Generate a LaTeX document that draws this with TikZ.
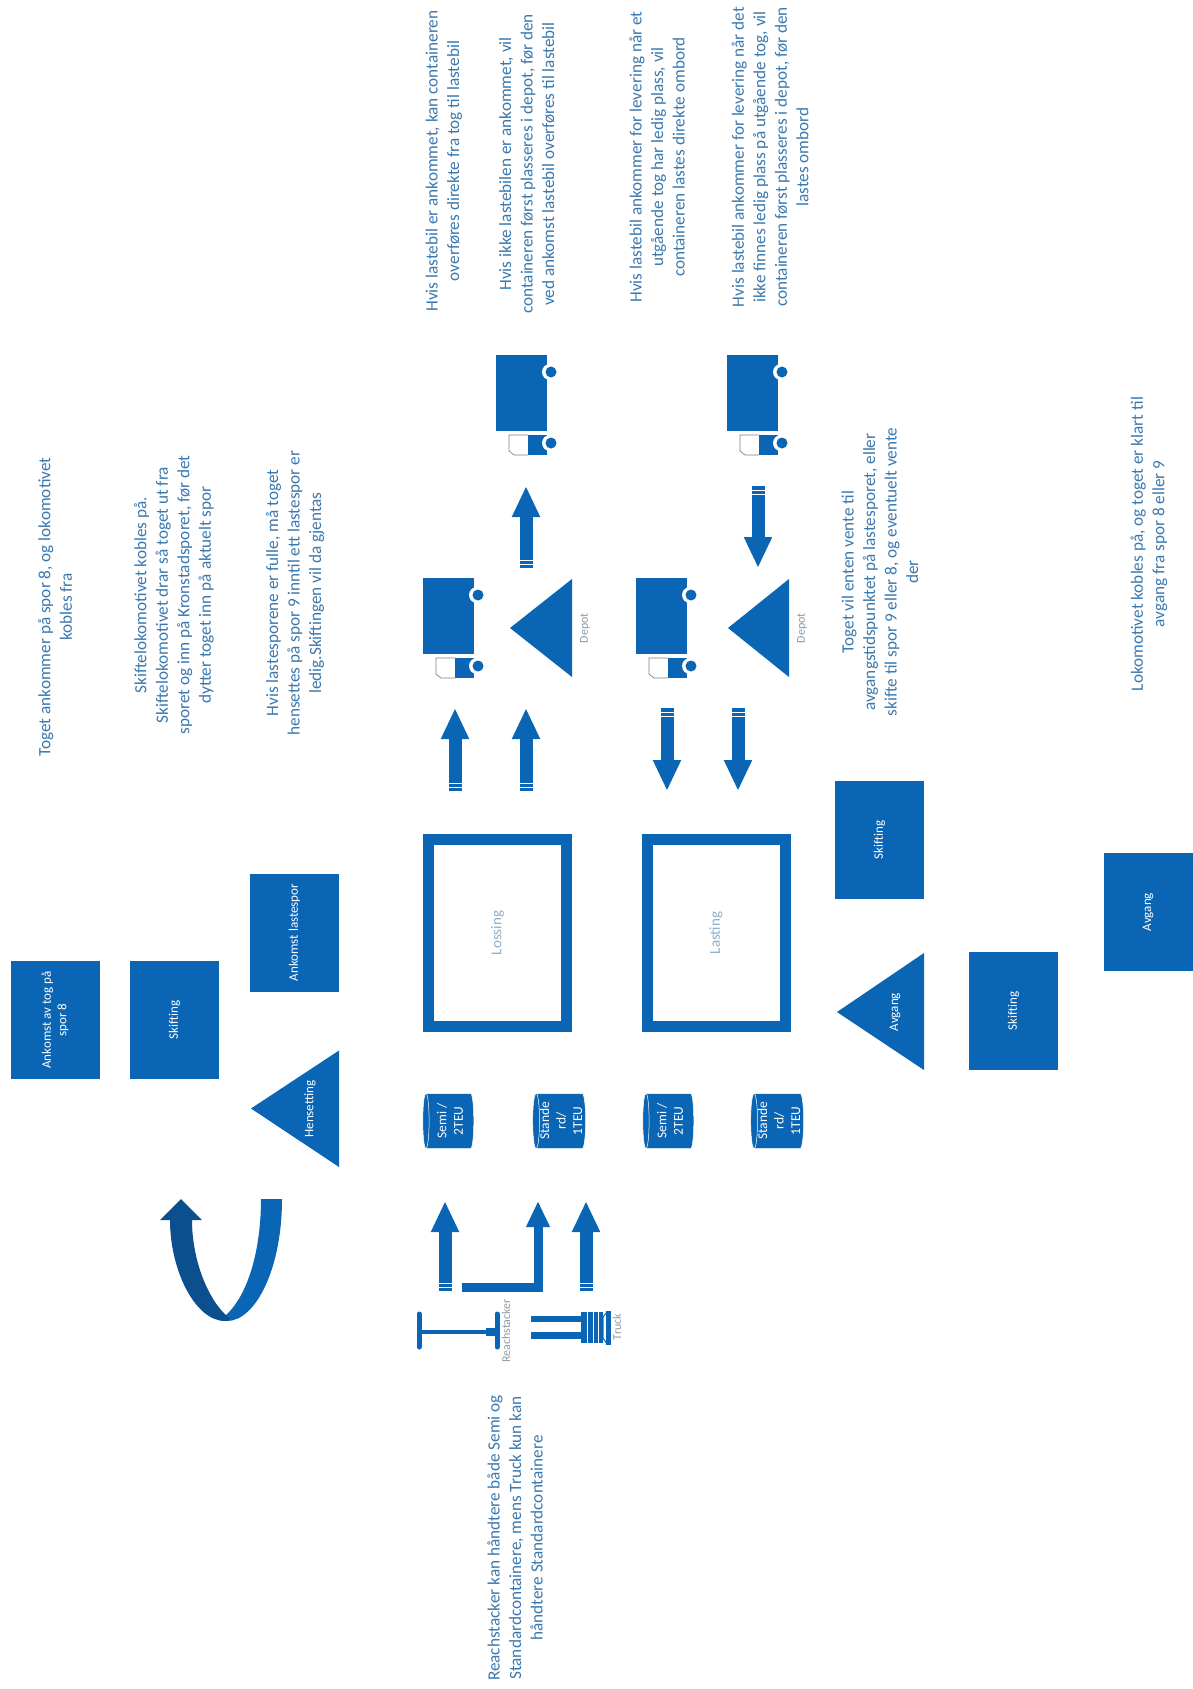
\documentclass[tikz,border=0pt]{standalone}
\usepackage{fontspec}
\setmainfont{Carlito}
\usetikzlibrary{arrows.meta,shapes.geometric,decorations.markings}
\definecolor{flowblue}{HTML}{0A65B4}
\definecolor{flowdark}{HTML}{0B4F8E}
\definecolor{notetext}{HTML}{3A78AE}
\definecolor{faintlabel}{HTML}{8FAFCB}
\definecolor{iconlabel}{HTML}{8C9AA8}
\tikzset{
  flowbox/.style={fill=flowblue, text=white, align=center, rotate=90, minimum width=118pt, minimum height=89pt, inner sep=2pt, font=\fontsize{13}{15.5}\selectfont},
  loadbox/.style={draw=flowblue, line width=11pt, fill=white, text=faintlabel, rotate=90, minimum width=187pt, minimum height=138pt, font=\fontsize{15}{18}\selectfont},
  drum/.style={cylinder, shape border rotate=90, rotate=90, aspect=0.18, fill=flowblue, draw=white, line width=0.5pt, text=white, align=center, inner sep=0pt, minimum width=55pt, minimum height=51pt, font=\fontsize{13.5}{16.5}\selectfont},
  note/.style={rotate=90, align=center, text=notetext, font=\fontsize{17.2}{21.5}\selectfont},
  trilabel/.style={rotate=90, text=white, font=\fontsize{13}{15.5}\selectfont},
  smalllabel/.style={rotate=90, text=iconlabel, font=\fontsize{12}{14}\selectfont},
  blockarrow/.style={draw=flowblue, line width=13pt, -{Triangle[length=31pt,width=26pt]},
    decoration={markings, mark=at position 4pt with {\draw[-, white, line width=0.7pt] (0,-7pt) -- (0,7pt);}, mark=at position 8pt with {\draw[-, white, line width=0.7pt] (0,-7pt) -- (0,7pt);}},
    postaction={decorate}},
  lorry/.pic={
    \fill[flowblue] (-26,-38) rectangle (25,38);
    \fill[white] (-13,42) -- (6,42) -- (6,62) -- (-8,62) -- (-13,58) -- cycle;
    \draw[gray, line width=0.7pt] (6,62) -- (-8,62) -- (-13,58) -- (-13,42) -- (6,42);
    \fill[flowblue] (6,42) rectangle (25,62);
    \fill[white] (28,-21) circle (8);
    \fill[white] (28,50) circle (8);
    \fill[flowblue] (29,-21) circle (5.5);
    \fill[flowblue] (29,50) circle (5.5);
  }
}
\begin{document}
\begin{tikzpicture}[x=1pt,y=-1pt]
\useasboundingbox (0,0) rectangle (1192,1689);
% flow boxes
\node[flowbox] (arrival) at (55,1020) {Ankomst av tog på\\spor 8};
\node[flowbox] (shuntA) at (174.5,1020) {Skifting};
\node[flowbox] (track) at (294.5,932.5) {Ankomst lastespor};
\node[flowbox] (shuntB) at (879.5,840) {Skifting};
\node[flowbox] (shuntC) at (1013.5,1011) {Skifting};
\node[flowbox] (departure) at (1148,912) {Avgang};
\node[loadbox] (unloading) at (497.5,933) {Lossing};
\node[loadbox] (loading) at (716,933) {Lasting};
% triangles
\fill[flowblue] (251,1108.5) -- (339,1050.5) -- (339,1167) -- cycle;
\node[trilabel] (parking) at (310,1109) {Hensetting};
\fill[flowblue] (837,1012) -- (924,953) -- (924,1070) -- cycle;
\node[trilabel] (leaving) at (895,1012) {Avgang};
\fill[flowblue] (510,628) -- (572,579) -- (572,677) -- cycle;
\node[smalllabel] (depotA) at (585,628) {Depot};
\fill[flowblue] (728,628) -- (789,579) -- (789,677) -- cycle;
\node[smalllabel] (depotB) at (802,628) {Depot};
% containers
\node[drum] (semiA) at (450,1121) {Semi /\\2TEU};
\node[drum] (standardA) at (561,1121) {Stande\\rd/\\1TEU};
\node[drum] (semiB) at (670,1121) {Semi /\\2TEU};
\node[drum] (standardB) at (779,1121) {Stande\\rd/\\1TEU};
% lorries
\pic at (522,393) {lorry};
\pic at (449,616) {lorry};
\pic at (662,616) {lorry};
\pic at (753,393) {lorry};
% arrow ends
\coordinate (reachtail) at (445,1291);
\coordinate (reachtip) at (445,1201);
\coordinate (trucktail) at (586,1291);
\coordinate (trucktip) at (586,1201);
\coordinate (bendtail) at (462,1287);
\coordinate (bendcorner) at (538,1287);
\coordinate (bendtip) at (538,1201);
\coordinate (lossA) at (455,791);
\coordinate (lorryA) at (455,708);
\coordinate (lossB) at (526,791);
\coordinate (depotinA) at (526,708);
\coordinate (depotoutA) at (526,568);
\coordinate (lorryB) at (526,486);
\coordinate (lorryC) at (667,708);
\coordinate (ladeA) at (667,791);
\coordinate (depotoutB) at (738,708);
\coordinate (ladeB) at (738,791);
\coordinate (lorryD) at (758,486);
\coordinate (depotinB) at (758,568);
\draw[blockarrow] (reachtail) -- (reachtip);
\draw[blockarrow] (trucktail) -- (trucktip);
\draw[draw=flowblue, line width=9pt, -{Triangle[length=26pt,width=22pt]}] (bendtail) -- (bendcorner) -- (bendtip);
\draw[blockarrow] (lossA) -- (lorryA);
\draw[blockarrow] (lossB) -- (depotinA);
\draw[blockarrow] (depotoutA) -- (lorryB);
\draw[blockarrow] (lorryC) -- (ladeA);
\draw[blockarrow] (depotoutB) -- (ladeB);
\draw[blockarrow] (lorryD) -- (depotinB);
% turn back arrow
\fill[flowblue] (261,1199) -- (282,1199) .. controls (282,1270) and (255,1321) .. (227,1321) .. controls (218,1321) and (212,1318) .. (226,1315) .. controls (248,1295) and (261,1250) .. (261,1199) -- cycle;
\fill[flowdark] (170,1220) -- (192,1220) .. controls (192,1260) and (208,1300) .. (228,1317) .. controls (232,1320) and (228,1321) .. (225,1321) .. controls (195,1321) and (170,1270) .. (170,1220) -- cycle;
\fill[flowdark] (181,1199) -- (202,1220) -- (160,1220) -- cycle;
% reach stacker
\draw[flowblue, line width=5pt, line cap=round] (419,1314) -- (419,1347);
\draw[flowblue, line width=5pt, line cap=round] (497,1314) -- (497,1347);
\fill[flowblue] (419,1330) rectangle (497,1334);
\fill[flowblue] (486,1328) rectangle (495,1336);
\node[smalllabel] (reachlabel) at (506,1331) {Reachstacker};
% fork truck
\fill[flowblue] (531,1316) rectangle (581,1322);
\fill[flowblue] (531,1332) rectangle (581,1339);
\fill[flowblue] (581,1312) rectangle (603,1343);
\draw[flowblue, line width=1pt] (603,1317) -- (607,1312) (603,1338) -- (607,1344) (603,1317) -- (603,1338);
\fill[flowblue] (606,1311) rectangle (611,1345);
\draw[white, line width=0.6pt] (587,1312) -- (587,1343) (593,1312) -- (593,1343) (598,1312) -- (598,1343);
\node[smalllabel] (trucklabel) at (617,1327) {Truck};
% notes
\node[note] (noteA) at (55,607) {Toget ankommer på spor 8, og lokomotivet\\kobles fra};
\node[note] (noteB) at (174,595) {Skiftelokomotivet kobles på.\\Skiftelokomotivet drar så toget ut fra\\sporet og inn på Kronstadsporet, før det\\dytter toget inn på aktuelt spor};
\node[note] (noteC) at (295,593) {Hvis lastesporene er fulle, må toget\\hensettes på spor 9 inntil ett lastespor er\\ledig.Skiftingen vil da gjentas};
\node[note] (noteD) at (444,161) {Hvis lastebil er ankommet, kan containeren\\overføres direkte fra tog til lastebil};
\node[note] (noteE) at (527,164) {Hvis ikke lastebilen er ankommet, vil\\containeren først plasseres i depot, før den\\ved ankomst lastebil overføres til lastebil};
\node[note] (noteF) at (657,157) {Hvis lastebil ankommer for levering når et\\utgående tog har ledig plass, vil\\containeren lastes direkte ombord};
\node[note] (noteG) at (770,157) {Hvis lastebil ankommer for levering når det\\ikke finnes ledig plass på  utgående tog, vil\\containeren først plasseres i depot, før den\\lastes ombord};
\node[note] (noteH) at (880,572) {Toget vil enten vente til\\avgangstidspunktet på lastesporet, eller\\skifte til spor 9 eller 8, og eventuelt vente\\der};
\node[note] (noteI) at (1149,544) {Lokomotivet kobles på, og toget er klart til\\avgang fra spor 8 eller 9};
\node[note] (noteJ) at (515,1538) {Reachstacker kan håndtere både Semi og\\Standardcontainere, mens Truck kun kan\\håndtere Standardcontainere};
\end{tikzpicture}
\end{document}
